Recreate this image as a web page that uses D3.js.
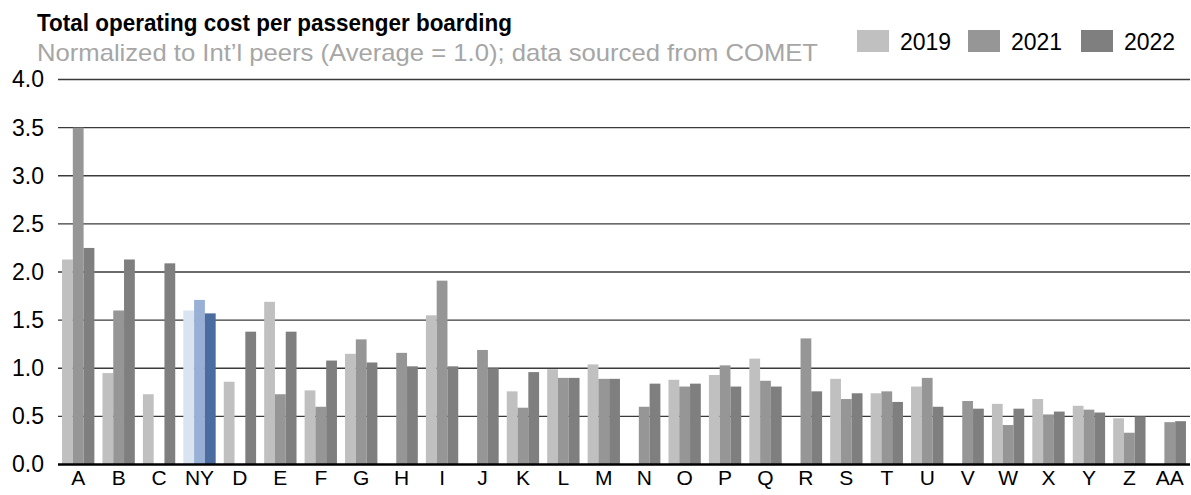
<!DOCTYPE html>
<html>
<head>
<meta charset="utf-8">
<script src="https://cdn.jsdelivr.net/npm/d3@7"></script>
<style>
  body { margin: 0; background: #fff; }
  svg { font-family: Arial, "Liberation Sans", sans-serif; }
</style>
</head>
<body>
<script>
var width = 1191;
var height = 495;

var categories = ["A","B","C","NY","D","E","F","G","H","I","J","K","L","M","N","O","P","Q","R","S","T","U","V","W","X","Y","Z","AA"];
var years = ["2019","2021","2022"];
var v2019 = [2.13,0.95,0.73,1.60,0.86,1.69,0.77,1.15,null,1.55,null,0.76,0.99,1.04,null,0.88,0.93,1.10,null,0.89,0.74,0.81,null,0.63,0.68,0.61,0.48,null];
var v2021 = [3.50,1.60,null,1.71,null,0.73,0.60,1.30,1.16,1.91,1.19,0.59,0.90,0.89,0.60,0.81,1.03,0.87,1.31,0.68,0.76,0.90,0.66,0.41,0.52,0.57,0.33,0.44];
var v2022 = [2.25,2.13,2.09,1.57,1.38,1.38,1.08,1.06,1.02,1.02,1.00,0.96,0.90,0.89,0.84,0.84,0.81,0.81,0.76,0.74,0.65,0.60,0.58,0.58,0.55,0.54,0.50,0.45];
var yTicks = [0, 0.5, 1.0, 1.5, 2.0, 2.5, 3.0, 3.5, 4.0];

var grayColors = ["#c0c0c0", "#969696", "#7f7f7f"];
var nyColors = ["#dae3f0", "#98b0d5", "#4a6c9f"];

var series = [v2019, v2021, v2022];

var canvas = d3.select("body")
    .append("svg")
    .attr("width", width)
    .attr("height", height);

var plotLeft = 58, plotRight = 1190, plotTop = 79.5, plotBottom = 464.5;

var x = d3.scaleBand()
    .domain(categories)
    .range([plotLeft, plotRight])
    .paddingInner(0.2)
    .paddingOuter(0.1);

var xInner = d3.scaleBand()
    .domain(years)
    .range([0, x.bandwidth()]);

var y = d3.scaleLinear()
    .domain([0, 4])
    .range([plotBottom, plotTop]);

// gridlines
canvas.append("g")
    .selectAll("line")
    .data(yTicks.slice(1))
    .enter().append("line")
    .attr("x1", plotLeft)
    .attr("x2", plotRight)
    .attr("y1", function(d) { return y(d); })
    .attr("y2", function(d) { return y(d); })
    .attr("stroke", "#3a3a3a")
    .attr("stroke-width", 1.4);

// bars
var rows = [];
categories.forEach(function(c, i) {
    years.forEach(function(yr, j) {
        if (series[j][i] != null) rows.push({cat: c, year: yr, j: j, value: series[j][i]});
    });
});

canvas.append("g")
    .selectAll("rect")
    .data(rows)
    .enter().append("rect")
    .attr("x", function(d) { return x(d.cat) + xInner(d.year); })
    .attr("width", xInner.bandwidth())
    .attr("y", function(d) { return y(d.value); })
    .attr("height", function(d) { return y(0) - y(d.value); })
    .attr("fill", function(d) { return d.cat == "NY" ? nyColors[d.j] : grayColors[d.j]; });

// baseline
canvas.append("line")
    .attr("x1", plotLeft)
    .attr("x2", plotRight)
    .attr("y1", y(0))
    .attr("y2", y(0))
    .attr("stroke", "#000")
    .attr("stroke-width", 2.5);

// y axis labels
var yAxis = d3.axisLeft(y)
    .tickValues(yTicks)
    .tickFormat(d3.format(".1f"))
    .tickSize(0)
    .tickPadding(0);

var gy = canvas.append("g")
    .attr("transform", "translate(44,0)")
    .call(yAxis);
gy.select(".domain").remove();
gy.selectAll("text")
    .attr("font-size", 23)
    .attr("fill", "#000")
    .attr("font-family", "Arial, 'Liberation Sans', sans-serif");

// x axis labels (kept just inside the bottom edge)
var xAxis = d3.axisBottom(x).tickSize(0).tickPadding(0);
var gx = canvas.append("g")
    .attr("transform", "translate(0," + (plotBottom + 6) + ")")
    .call(xAxis);
gx.select(".domain").remove();
gx.selectAll("text")
    .attr("font-size", 21)
    .attr("fill", "#000")
    .attr("font-family", "Arial, 'Liberation Sans', sans-serif");

// title
canvas.append("text")
    .attr("x", 37)
    .attr("y", 31)
    .attr("font-size", 24)
    .attr("font-weight", "bold")
    .attr("fill", "#000")
    .attr("textLength", 475)
    .attr("lengthAdjust", "spacingAndGlyphs")
    .text("Total operating cost per passenger boarding");

canvas.append("text")
    .attr("x", 37)
    .attr("y", 61)
    .attr("font-size", 24)
    .attr("fill", "#a6a6a6")
    .attr("textLength", 781)
    .attr("lengthAdjust", "spacingAndGlyphs")
    .text("Normalized to Int\u2019l peers (Average = 1.0); data sourced from COMET");

// legend
var legendX = [857, 968, 1081];
var legend = canvas.append("g")
    .selectAll("g")
    .data(years)
    .enter().append("g")
    .attr("transform", function(d, i) { return "translate(" + legendX[i] + ",0)"; });

legend.append("rect")
    .attr("x", 0)
    .attr("y", 30)
    .attr("width", 32)
    .attr("height", 22)
    .attr("fill", function(d, i) { return grayColors[i]; });

legend.append("text")
    .attr("x", 43)
    .attr("y", 50)
    .attr("font-size", 23)
    .attr("fill", "#000")
    .text(function(d) { return d; });
</script>
</body>
</html>
